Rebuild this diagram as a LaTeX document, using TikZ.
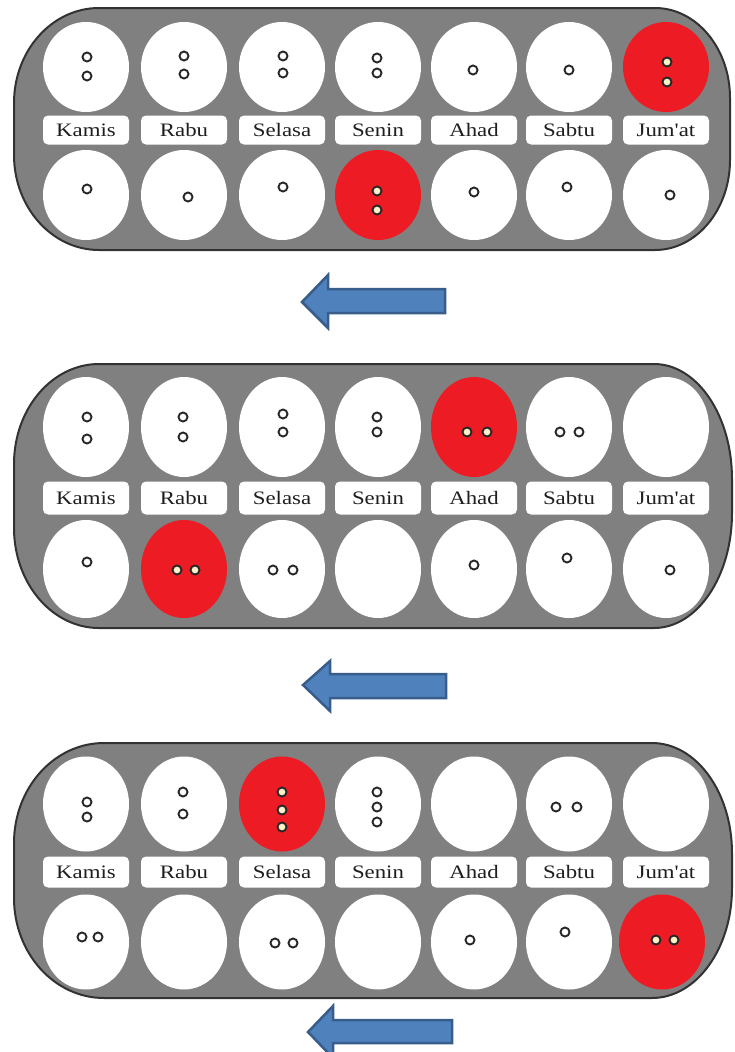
\documentclass[tikz,border=0pt]{standalone}
\usepackage{fontspec}
\setmainfont{Liberation Serif}
\newfontfamily\labelfont[FakeStretch=1.2]{Liberation Serif}
\usetikzlibrary{shapes.geometric}
\definecolor{boardgray}{RGB}{128,128,128}
\definecolor{boardedge}{RGB}{50,50,50}
\definecolor{pitred}{RGB}{237,28,36}
\definecolor{seedcream}{RGB}{255,240,200}
\definecolor{arrowfill}{RGB}{79,129,189}
\definecolor{arrowedge}{RGB}{56,93,138}
\definecolor{labeltext}{RGB}{30,30,30}
\tikzset{
  board/.style={fill=boardgray, draw=boardedge, line width=2pt},
  pit/.style={ellipse, fill=white, minimum width=86pt, inner sep=0pt},
  daylabel/.style={rectangle, rounded corners=5pt, fill=white, minimum width=86pt,
    inner sep=0pt, text=labeltext, font=\labelfont\fontsize{19}{19}\selectfont},
  seed/.style={circle, draw=black!85, fill=white, line width=1.9pt, minimum size=9pt, inner sep=0pt},
  redseed/.style={seed, fill=seedcream},
  arrowshape/.style={fill=arrowfill, draw=arrowedge, line width=2.5pt, line join=miter},
}
\newcommand\mkboard[8]{%
  \path[board] (#1+#5,#3) -- (#2-#7,#3)
    arc[start angle=90,end angle=0,x radius=#7pt,y radius=#8pt]
    -- (#2,#4-#8)
    arc[start angle=0,end angle=-90,x radius=#7pt,y radius=#8pt]
    -- (#1+#5,#4)
    arc[start angle=270,end angle=180,x radius=#5pt,y radius=#6pt]
    -- (#1,#3+#6)
    arc[start angle=180,end angle=90,x radius=#5pt,y radius=#6pt]
    -- cycle;}
\begin{document}
\begin{tikzpicture}[x=1pt,y=-1pt]
\useasboundingbox (0,0) rectangle (734,1052);

% ---------------- Board 1 ----------------
\mkboard{14}{730}{8}{250}{85}{95}{75}{90}
\foreach \x/\c [count=\i] in {86/white,184/white,282/white,378/white,474/white,569/white,666/pitred}
  \node[pit, fill=\c, minimum height=90pt] (a-t\i) at (\x,67) {};
\foreach \x/\t [count=\i] in {86/Kamis,184/Rabu,282/Selasa,378/Senin,474/Ahad,569/Sabtu,666/Jum'at}
  \node[daylabel, minimum height=29pt] (a-l\i) at (\x,130) {\t};
\foreach \x/\c [count=\i] in {86/white,184/white,282/white,378/pitred,474/white,569/white,666/white}
  \node[pit, fill=\c, minimum height=90pt] (a-b\i) at (\x,195) {};
% seeds board 1 top
\node[seed] (a-s1) at (87,57) {};
\node[seed] (a-s2) at (87,76) {};
\node[seed] (a-s3) at (184,56) {};
\node[seed] (a-s4) at (184,74) {};
\node[seed] (a-s5) at (283,56) {};
\node[seed] (a-s6) at (283,73) {};
\node[seed] (a-s7) at (377,58) {};
\node[seed] (a-s8) at (377,73) {};
\node[seed] (a-s9) at (473,70) {};
\node[seed] (a-s10) at (569,70) {};
\node[redseed] (a-s11) at (667,62) {};
\node[redseed] (a-s12) at (667,82) {};
% seeds board 1 bottom
\node[seed] (a-s13) at (87,189) {};
\node[seed] (a-s14) at (188,197) {};
\node[seed] (a-s15) at (283,187) {};
\node[redseed] (a-s16) at (377,191) {};
\node[redseed] (a-s17) at (377,210) {};
\node[seed] (a-s18) at (474,192) {};
\node[seed] (a-s19) at (567,187) {};
\node[seed] (a-s20) at (670,195) {};

\draw[arrowshape] (302,302) -- (328,275) -- (328,289) -- (445,289) -- (445,313) -- (328,313) -- (328,328) -- cycle;

% ---------------- Board 2 ----------------
\mkboard{14}{732}{364}{628}{85}{100}{78}{115}
\foreach \x/\c [count=\i] in {86/white,184/white,282/white,378/white,474/pitred,569/white,666/white}
  \node[pit, fill=\c, minimum height=100pt] (b-t\i) at (\x,427) {};
\foreach \x/\t [count=\i] in {86/Kamis,184/Rabu,282/Selasa,378/Senin,474/Ahad,569/Sabtu,666/Jum'at}
  \node[daylabel, minimum height=33pt] (b-l\i) at (\x,498) {\t};
\foreach \x/\c [count=\i] in {86/white,184/pitred,282/white,378/white,474/white,569/white,666/white}
  \node[pit, fill=\c, minimum height=98pt] (b-b\i) at (\x,569) {};
% seeds board 2 top
\node[seed] (b-s1) at (87,417) {};
\node[seed] (b-s2) at (87,439) {};
\node[seed] (b-s3) at (183,417) {};
\node[seed] (b-s4) at (183,437) {};
\node[seed] (b-s5) at (283,414) {};
\node[seed] (b-s6) at (283,432) {};
\node[seed] (b-s7) at (377,417) {};
\node[seed] (b-s8) at (377,432) {};
\node[redseed] (b-s9) at (467,432) {};
\node[redseed] (b-s10) at (487,432) {};
\node[seed] (b-s11) at (560,432) {};
\node[seed] (b-s12) at (579,432) {};
% seeds board 2 bottom
\node[seed] (b-s13) at (87,562) {};
\node[redseed] (b-s14) at (177,570) {};
\node[redseed] (b-s15) at (195,570) {};
\node[seed] (b-s16) at (273,570) {};
\node[seed] (b-s17) at (293,570) {};
\node[seed] (b-s18) at (474,565) {};
\node[seed] (b-s19) at (567,558) {};
\node[seed] (b-s20) at (670,570) {};

\draw[arrowshape] (303,685) -- (330,661) -- (330,674) -- (446,674) -- (446,698) -- (330,698) -- (330,711) -- cycle;

% ---------------- Board 3 ----------------
\mkboard{14}{732}{743}{998}{90}{100}{80}{110}
\foreach \x/\c [count=\i] in {86/white,184/white,282/pitred,378/white,474/white,569/white,666/white}
  \node[pit, fill=\c, minimum height=95pt] (c-t\i) at (\x,804) {};
\foreach \x/\t [count=\i] in {86/Kamis,184/Rabu,282/Selasa,378/Senin,474/Ahad,569/Sabtu,666/Jum'at}
  \node[daylabel, minimum height=31pt] (c-l\i) at (\x,872) {\t};
\foreach \x/\c [count=\i] in {86/white,184/white,282/white,378/white,474/white,569/white,662/pitred}
  \node[pit, fill=\c, minimum height=95pt] (c-b\i) at (\x,942) {};
% seeds board 3 top
\node[seed] (c-s1) at (87,802) {};
\node[seed] (c-s2) at (87,817) {};
\node[seed] (c-s3) at (183,792) {};
\node[seed] (c-s4) at (183,814) {};
\node[redseed] (c-s5) at (282,792) {};
\node[redseed] (c-s6) at (282,810) {};
\node[redseed] (c-s7) at (282,827) {};
\node[seed] (c-s8) at (377,792) {};
\node[seed] (c-s9) at (377,807) {};
\node[seed] (c-s10) at (377,822) {};
\node[seed] (c-s11) at (556,807) {};
\node[seed] (c-s12) at (577,807) {};
% seeds board 3 bottom
\node[seed] (c-s13) at (82,937) {};
\node[seed] (c-s14) at (98,937) {};
\node[seed] (c-s15) at (275,943) {};
\node[seed] (c-s16) at (293,943) {};
\node[seed] (c-s17) at (470,940) {};
\node[seed] (c-s18) at (565,932) {};
\node[redseed] (c-s19) at (656,940) {};
\node[redseed] (c-s20) at (674,940) {};

\draw[arrowshape] (308,1032) -- (333,1006) -- (333,1020) -- (452,1020) -- (452,1043) -- (333,1043) -- (333,1058) -- cycle;
\end{tikzpicture}
\end{document}
